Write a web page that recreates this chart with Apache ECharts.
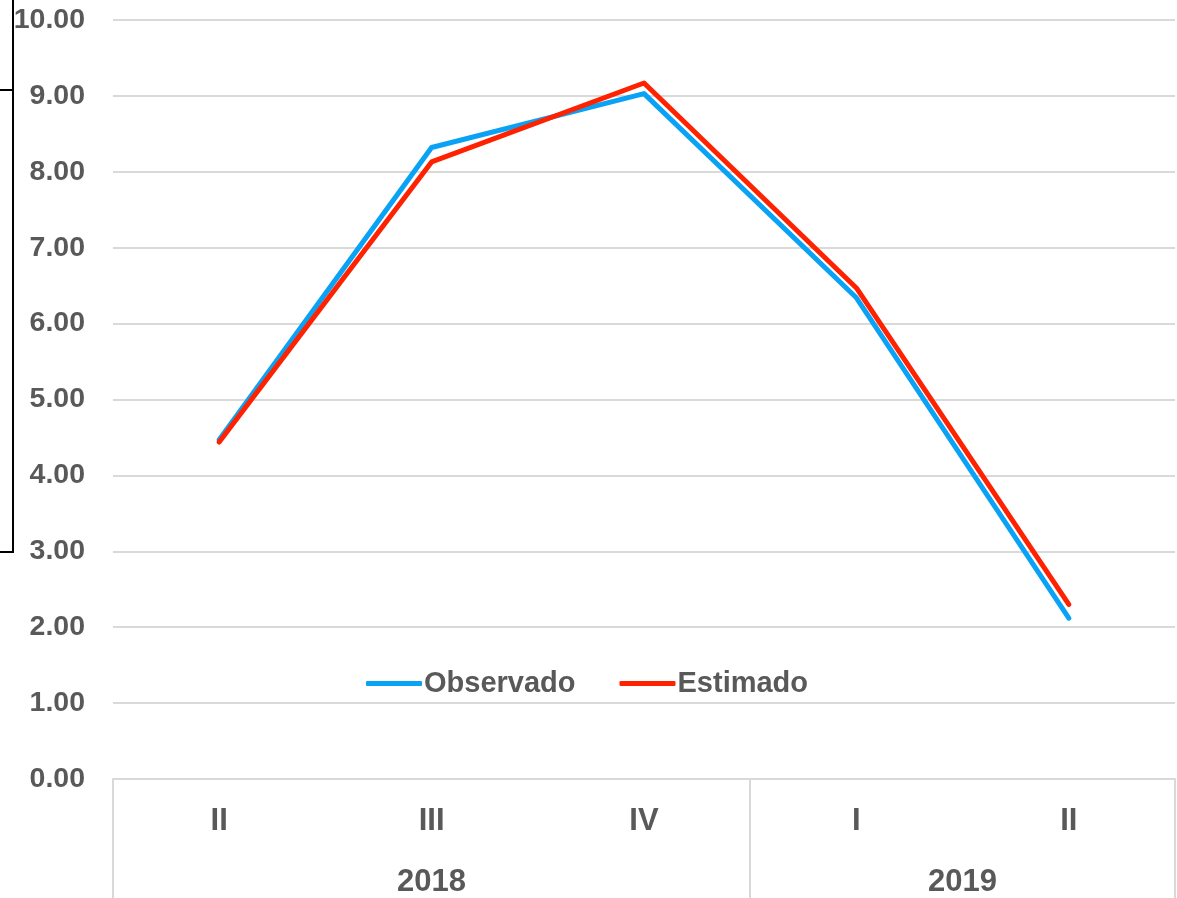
<!DOCTYPE html>
<html>
<head>
<meta charset="utf-8">
<script src="https://cdn.jsdelivr.net/npm/echarts@6/dist/echarts.min.js"></script>
<style>html,body{margin:0;padding:0;background:#fff}#c{width:1177px;height:898px}</style>
</head>
<body>
<div id="c"></div>
<script>
const categories = ['II', 'III', 'IV', 'I', 'II'];
const years = ['2018', '2019'];
const yearSpans = [3, 2];
const observado = [4.47, 8.32, 9.03, 6.34, 2.12];
const estimado = [4.44, 8.13, 9.17, 6.47, 2.30];
const yTicks = [0, 1, 2, 3, 4, 5, 6, 7, 8, 9, 10];

const TXT = '#595959';
const FONT = 'Liberation Sans, Arial, sans-serif';

// year group boundaries and centres on a 0..N value scale
const bounds = [0];
yearSpans.forEach(s => bounds.push(bounds[bounds.length - 1] + s));
const centres = yearSpans.map((s, i) => bounds[i] + s / 2);

const chart = echarts.init(document.getElementById('c'), null, {renderer: 'canvas'});
chart.setOption({
  animation: false,
  backgroundColor: '#fff',
  grid: {left: 113, right: 2, top: 20, bottom: 119, containLabel: false},
  legend: {
    data: ['Observado', 'Estimado'],
    left: 361, top: 664,
    icon: 'roundRect', itemWidth: 56, itemHeight: 5, itemGap: 44,
    textStyle: {color: TXT, fontSize: 29, fontWeight: 'bold', fontFamily: FONT, padding: [0, 0, 0, -3]}
  },
  xAxis: [
    {
      type: 'category', data: categories, boundaryGap: true,
      axisLine: {show: true, lineStyle: {color: '#d9d9d9', width: 2}},
      axisTick: {show: false},
      axisLabel: {color: TXT, fontSize: 31, fontWeight: 'bold', fontFamily: FONT, margin: 27}
    },
    {
      type: 'value', min: 0, max: categories.length, position: 'bottom',
      splitLine: {show: false},
      axisLine: {show: false},
      axisTick: {show: true, customValues: bounds, length: 120, lineStyle: {color: '#d9d9d9', width: 2}},
      axisLabel: {
        show: true, customValues: centres, margin: 88,
        formatter: v => { const i = centres.indexOf(v); return i >= 0 ? years[i] : ''; },
        color: TXT, fontSize: 31, fontWeight: 'bold', fontFamily: FONT
      }
    }
  ],
  yAxis: {
    type: 'value', min: yTicks[0], max: yTicks[yTicks.length - 1], interval: 1,
    axisLine: {show: false}, axisTick: {show: false},
    splitLine: {lineStyle: {color: '#d9d9d9', width: 2}},
    axisLabel: {color: TXT, fontSize: 28.5, fontWeight: 'bold', fontFamily: FONT, margin: 28,
      formatter: v => v.toFixed(2)}
  },
  series: [
    {
      name: 'Observado', type: 'line', data: observado, xAxisIndex: 0,
      symbol: 'none', color: '#0AA2F5',
      lineStyle: {width: 5, color: '#0AA2F5', cap: 'round', join: 'round'}
    },
    {
      name: 'Estimado', type: 'line', data: estimado, xAxisIndex: 0,
      symbol: 'none', color: '#FF2200',
      lineStyle: {width: 5, color: '#FF2200', cap: 'round', join: 'round'}
    }
  ],
  graphic: [
    {type: 'polyline', shape: {points: [[0, 90], [13, 90]]}, style: {stroke: '#000', lineWidth: 2, fill: null}},
    {type: 'polyline', shape: {points: [[13, 0], [13, 552], [0, 552]]}, style: {stroke: '#000', lineWidth: 2, fill: null}}
  ]
});
</script>
</body>
</html>
